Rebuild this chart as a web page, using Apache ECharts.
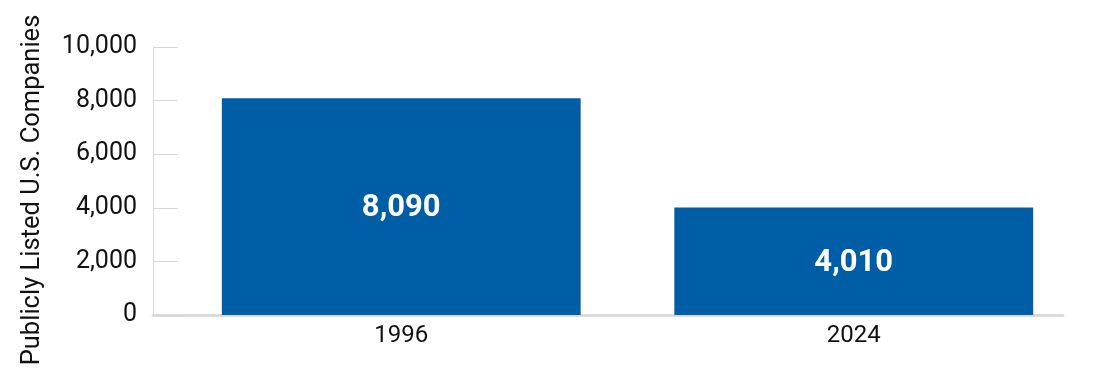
<!DOCTYPE html>
<html>
<head>
<meta charset="utf-8">
<script src="https://cdn.jsdelivr.net/npm/echarts@6/dist/echarts.min.js"></script>
<style>html,body{margin:0;padding:0;background:#fff}#c{width:1100px;height:383px}</style>
</head>
<body>
<div id="c"></div>
<script>
const categories = ['1996', '2024'];
const companies = [8090, 4010];
const yTicks = { min: 0, max: 10000, interval: 2000 };
const yName = 'Publicly Listed U.S. Companies';

const chart = echarts.init(document.getElementById('c'), null, { renderer: 'canvas' });
const font = 'Roboto';
chart.setOption({
  animation: false,
  textStyle: { fontFamily: font },
  grid: [
    { left: 175, right: 20, top: 47, bottom: 68 },
    { left: 153, right: 37, top: 47, bottom: 68 }
  ],
  xAxis: [
    {
      type: 'category', gridIndex: 0, data: categories,
      axisLine: { show: false }, axisTick: { show: false },
      axisLabel: { fontSize: 24, color: '#111', margin: 9, fontFamily: font }
    },
    {
      type: 'category', gridIndex: 1, data: categories,
      axisLine: { show: true, lineStyle: { color: '#dadada', width: 3 } },
      axisTick: { show: false }, axisLabel: { show: false }, splitLine: { show: false }
    }
  ],
  yAxis: [
    {
      type: 'value', gridIndex: 0, min: yTicks.min, max: yTicks.max, interval: yTicks.interval,
      offset: 22,
      name: yName, nameLocation: 'middle', nameGap: 107,
      nameTextStyle: { fontSize: 25.5, color: '#111', fontFamily: font, padding: [0, 0, 0, -18] },
      axisLine: { show: true, lineStyle: { color: '#d8d8d8', width: 1 } },
      axisTick: { show: true, inside: true, length: 25, lineStyle: { color: '#d8d8d8' } },
      splitLine: { show: false },
      axisLabel: {
        fontSize: 25, color: '#111', margin: 16, fontFamily: font,
        formatter: v => v.toLocaleString('en-US')
      }
    },
    { type: 'value', gridIndex: 1, show: false, min: 0, max: 10000 }
  ],
  series: [{
    type: 'bar', xAxisIndex: 0, yAxisIndex: 0,
    data: companies, barWidth: '79.3%',
    itemStyle: { color: '#005EA6' },
    label: {
      show: true, position: 'inside', color: '#fff', fontSize: 31, fontWeight: 'bold',
      fontFamily: font, offset: [0, 2], formatter: p => p.value.toLocaleString('en-US')
    }
  }]
});
</script>
</body>
</html>
